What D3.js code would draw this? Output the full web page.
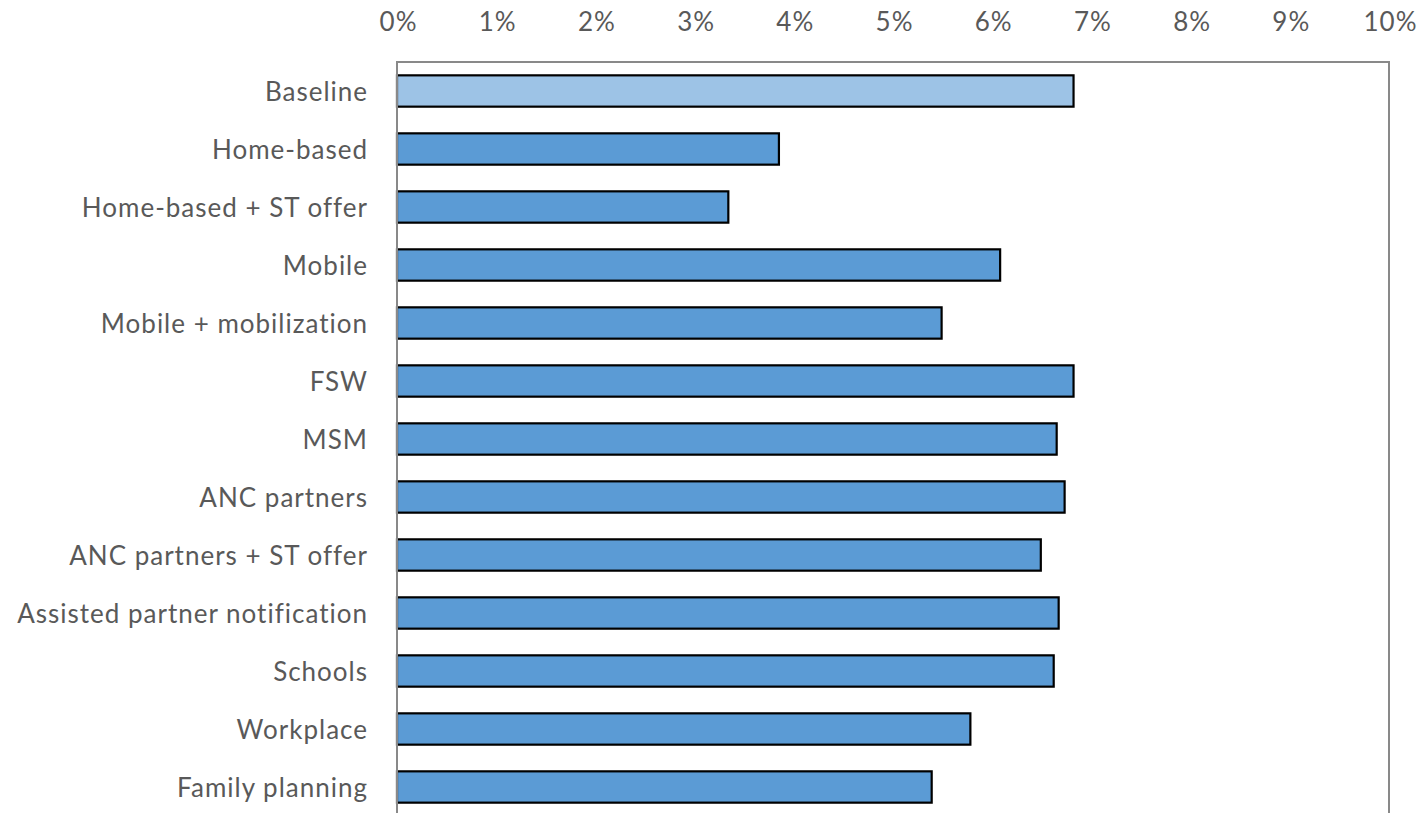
<!DOCTYPE html>
<html>
<head>
<meta charset="utf-8">
<script src="https://cdn.jsdelivr.net/npm/d3@7"></script>
<style>
  html, body { margin: 0; padding: 0; background: #fff; }
  svg { display: block; }
  text { font-family: Lato, "Open Sans", sans-serif; fill: #595959; }
</style>
</head>
<body>
<svg id="chart" width="1425" height="813"></svg>
<script>
// Strategies compared, top to bottom
const categories = [
  "Baseline",
  "Home-based",
  "Home-based + ST offer",
  "Mobile",
  "Mobile + mobilization",
  "FSW",
  "MSM",
  "ANC partners",
  "ANC partners + ST offer",
  "Assisted partner notification",
  "Schools",
  "Workplace",
  "Family planning"
];
// Percentage value for each strategy
const values = [6.82, 3.85, 3.34, 6.08, 5.49, 6.82, 6.65, 6.73, 6.49, 6.67, 6.62, 5.78, 5.39];
const tickValues = [0, 1, 2, 3, 4, 5, 6, 7, 8, 9, 10];

const svg = d3.select("#chart");
const plotLeft = 397, plotRight = 1389, plotTop = 62, plotBottom = 816;

const x = d3.scaleLinear().domain([0, 10]).range([plotLeft, plotRight]);
const y = d3.scaleBand().domain(categories).range([plotTop, plotBottom]).paddingInner(0.46).paddingOuter(0.23);

// Bars
svg.append("g").selectAll("rect")
  .data(categories)
  .join("rect")
  .attr("x", x(0))
  .attr("y", d => y(d))
  .attr("width", (d, i) => x(values[i]) - x(0))
  .attr("height", y.bandwidth())
  .attr("fill", (d, i) => i === 0 ? "#9DC3E6" : "#5B9BD5")
  .attr("stroke", "#000")
  .attr("stroke-width", 2.2);

// Plot frame: top, left and right edges
svg.append("path")
  .attr("d", `M${plotLeft},${plotBottom}V${plotTop}H${plotRight}V${plotBottom}`)
  .attr("fill", "none")
  .attr("stroke", "#898989")
  .attr("stroke-width", 2);

function styleLabels(g) {
  g.select(".domain").remove();
  g.selectAll("text")
    .attr("font-size", 26)
    .attr("fill", "#595959")
    .style("letter-spacing", "1px")
    .style("font-family", "Lato, 'Open Sans', sans-serif");
}

// Top axis labels
const xAxis = d3.axisTop(x).tickValues(tickValues).tickSize(0).tickPadding(0)
  .tickFormat(d => d + "%");
svg.append("g").attr("transform", "translate(1,31)").call(xAxis).call(styleLabels);

// Category labels
const yAxis = d3.axisLeft(y).tickSize(0).tickPadding(0);
svg.append("g").attr("transform", "translate(368,1.5)").call(yAxis).call(styleLabels);
</script>
</body>
</html>
